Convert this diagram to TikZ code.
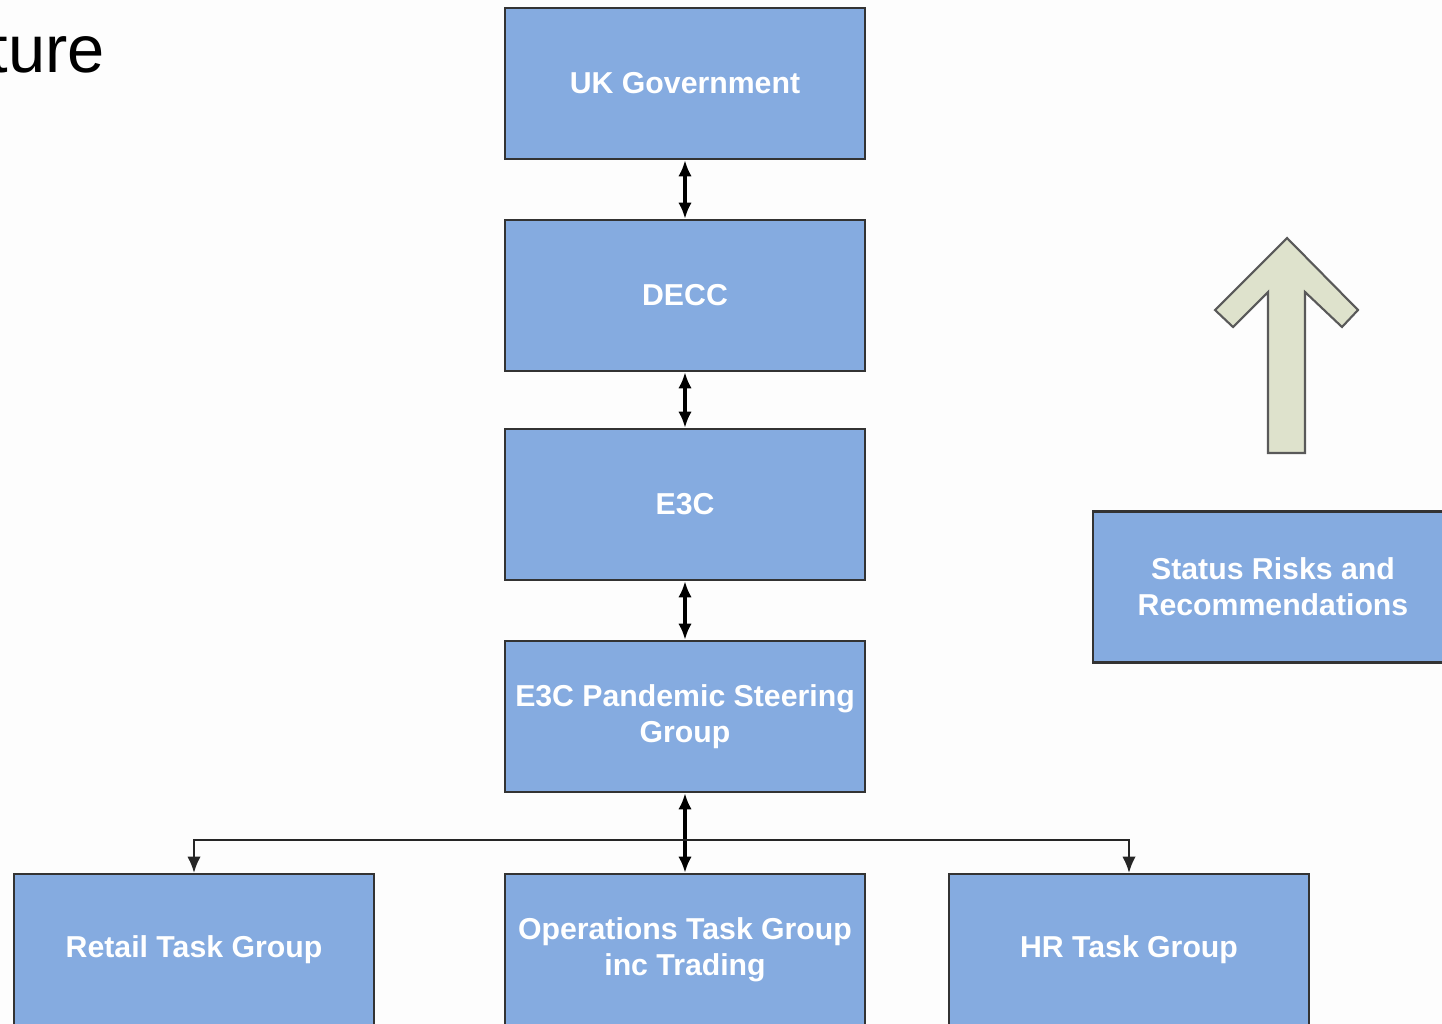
\documentclass[tikz,border=0pt]{standalone}
\usepackage{fontspec}
\usetikzlibrary{arrows.meta}
\newfontfamily\arialfont{Liberation Sans}
\definecolor{boxblue}{RGB}{133,171,224}
\definecolor{upfill}{RGB}{222,226,204}
\definecolor{pagebg}{RGB}{253,253,253}
\tikzset{
	orgbox/.style={draw=black!80, line width=0.6pt, fill=boxblue, minimum width=3.6cm, minimum height=1.51cm,
		inner sep=0pt, align=center, text=white, font=\arialfont\bfseries\fontsize{8.6}{10.2}\selectfont},
	link/.style={line width=0.9pt, {Latex[length=4.6pt,width=3.8pt]}-{Latex[length=4.6pt,width=3.8pt]}},
	feed/.style={line width=0.6pt, draw=black!85, -{Latex[length=4.6pt,width=3.8pt]}}
}

\begin{document}
\begin{tikzpicture}[x=0.01cm, y=-0.01cm]
	\useasboundingbox (0,0) rectangle (1442,1024);
	\clip (0,0) rectangle (1442,1024);
	\fill[pagebg] (0,0) rectangle (1442,1024);
	\node[anchor=base west, inner sep=0pt, font=\arialfont\fontsize{19}{23}\selectfont, name=title] at (-11,72) {ture};
	% chain of command
	\node[orgbox, name=uk] at (685,83.5) {UK Government};
	\node[orgbox, name=decc] at (685,295.5) {DECC};
	\node[orgbox, name=e3c] at (685,504.5) {E3C};
	\node[orgbox, name=steer] at (685,716.5) {E3C Pandemic Steering\\Group};
	\node[orgbox, name=retail] at (194,949.5) {Retail Task Group};
	\node[orgbox, name=ops] at (685,949.5) {Operations Task Group\\inc Trading};
	\node[orgbox, name=hr] at (1129,949.5) {HR Task Group};
	\node[orgbox, name=status] at (1273,587) {Status Risks and\\Recommendations};
	\draw[link] (uk) -- (decc);
	\draw[link] (decc) -- (e3c);
	\draw[link] (e3c) -- (steer);
	\draw[link] (steer) -- (ops);
	\coordinate (fork) at (685,840);
	\draw[feed] (fork) -| (retail);
	\draw[feed] (fork) -| (hr);
	% reporting arrow
	\filldraw[fill=upfill, draw=black!65, line width=0.6pt, line join=miter]
		(1287,238) -- (1358,310) -- (1342,327) -- (1305,292) -- (1305,453) -- (1268,453)
		-- (1268,292) -- (1233,327) -- (1215,310) -- cycle;
\end{tikzpicture}
\end{document}
